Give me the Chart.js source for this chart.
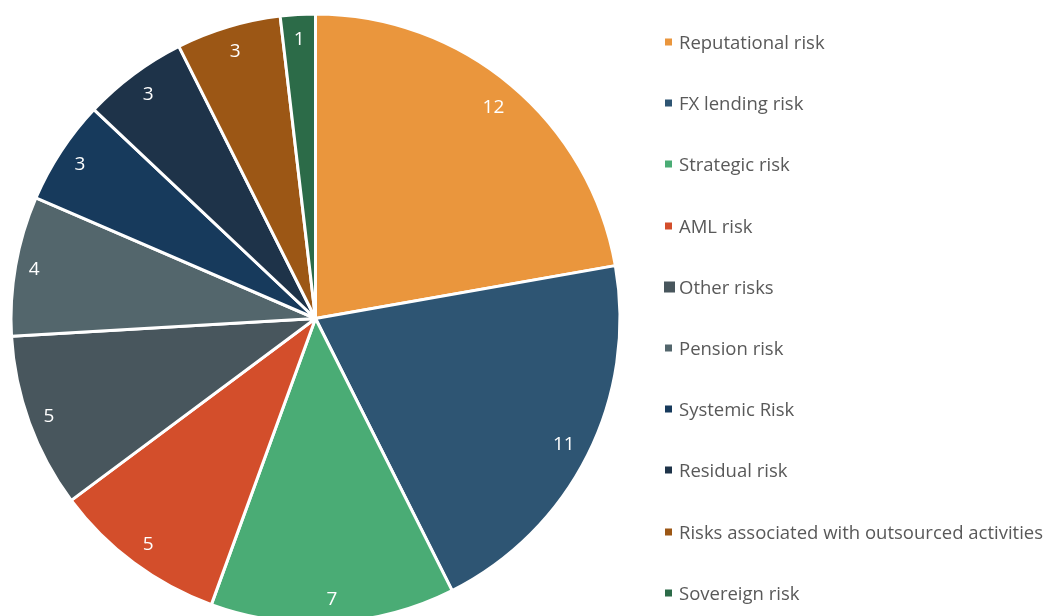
<!DOCTYPE html>
<html>
<head>
<meta charset="utf-8">
<script src="https://cdn.jsdelivr.net/npm/chart.js@4.4.1/dist/chart.umd.min.js"></script>
<style>
  html, body { margin: 0; padding: 0; background: #fff; overflow: hidden; }
  #wrap { position: relative; width: 1049px; height: 640px; }
  #legend { position: absolute; left: 664px; top: 0; font-family: "Open Sans", sans-serif; font-size: 18.5px; color: #595959; }
  .item { position: absolute; left: 0; white-space: nowrap; height: 24px; line-height: 24px; }
  .box { position: absolute; top: 50%; transform: translateY(-50%); }
  .txt { position: absolute; left: 15px; top: 0; }
</style>
</head>
<body>
<div id="wrap">
  <canvas id="pie"></canvas>
  <div id="legend"></div>
</div>
<script>
// categories and values, clockwise from 12 o'clock
const labels = [
  "Reputational risk",
  "FX lending risk",
  "Strategic risk",
  "AML risk",
  "Other risks",
  "Pension risk",
  "Systemic Risk",
  "Residual risk",
  "Risks associated with outsourced activities",
  "Sovereign risk"
];
const values = [12, 11, 7, 5, 5, 4, 3, 3, 3, 1];
const colors = ["#EA963D", "#2E5573", "#4AAC75", "#D34E2B", "#48565D",
                "#53666C", "#173A5C", "#1E3349", "#9C5715", "#2C6B48"];

// white numbers, placed "inside end" like Excel does
const sliceLabels = {
  id: "sliceLabels",
  afterDatasetsDraw(chart) {
    const ctx = chart.ctx;
    const meta = chart.getDatasetMeta(0);
    ctx.save();
    ctx.fillStyle = "#fff";
    ctx.font = "19px 'Open Sans', sans-serif";
    ctx.textAlign = "center";
    ctx.textBaseline = "middle";
    meta.data.forEach((arc, i) => {
      const p = arc.getProps(["x", "y", "startAngle", "endAngle", "outerRadius"], true);
      const mid = (p.startAngle + p.endAngle) / 2;
      const txt = String(values[i]);
      const w = ctx.measureText(txt).width;
      const half = Math.abs(Math.cos(mid)) * w / 2 + Math.abs(Math.sin(mid)) * 12;
      const r = p.outerRadius - 11.5 - half;
      ctx.fillText(txt, p.x + Math.cos(mid) * r, p.y + Math.sin(mid) * r + 1);
    });
    ctx.restore();
  }
};

new Chart(document.getElementById("pie"), {
  type: "pie",
  data: {
    labels: labels,
    datasets: [{
      data: values,
      backgroundColor: colors,
      borderColor: "#fff",
      borderWidth: 3
    }]
  },
  options: {
    responsive: true,
    maintainAspectRatio: false,
    animation: false,
    layout: { padding: { left: 9.5, top: 12.5, right: 427.5, bottom: 15.5 } },
    plugins: {
      legend: { display: false },
      tooltip: { enabled: false }
    }
  },
  plugins: [sliceLabels]
});

// legend on the right
const legend = document.getElementById("legend");
labels.forEach((lab, i) => {
  const item = document.createElement("div");
  item.className = "item";
  item.style.top = (42 + i * 61.2 - 12) + "px";
  const box = document.createElement("span");
  box.className = "box";
  const s = i === 4 ? 11 : 7;
  box.style.width = s + "px";
  box.style.height = s + "px";
  box.style.left = (i === 4 ? 0 : 1) + "px";
  box.style.background = colors[i];
  const t = document.createElement("span");
  t.className = "txt";
  t.textContent = lab;
  item.appendChild(box);
  item.appendChild(t);
  legend.appendChild(item);
});
</script>
</body>
</html>
